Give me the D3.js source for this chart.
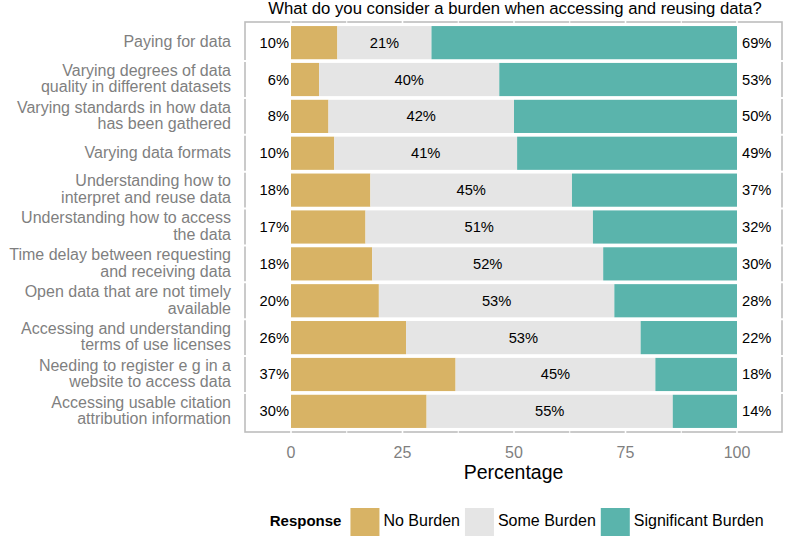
<!DOCTYPE html>
<html>
<head>
<meta charset="utf-8">
<script src="https://cdn.jsdelivr.net/npm/d3@7/dist/d3.min.js"></script>
<style>
  html, body { margin: 0; padding: 0; background: #fff; }
  svg { display: block; font-family: "Liberation Sans", Arial, Helvetica, sans-serif; }
</style>
</head>
<body>
<svg id="chart" width="786" height="538"></svg>
<script>
// ---- data ----
const title = "What do you consider a burden when accessing and reusing data?";
const categories = [
  "Paying for data",
  "Varying degrees of data quality in different datasets",
  "Varying standards in how data has been gathered",
  "Varying data formats",
  "Understanding how to interpret and reuse data",
  "Understanding how to access the data",
  "Time delay between requesting and receiving data",
  "Open data that are not timely available",
  "Accessing and understanding terms of use licenses",
  "Needing to register e g in a website to access data",
  "Accessing usable citation attribution information"
];
const responses = ["No Burden", "Some Burden", "Significant Burden"];
const noBurden          = [10.4, 6.3, 8.4, 9.7, 17.8, 16.7, 18.2, 19.7, 25.8, 36.9, 30.4];
const someBurden        = [21.1, 40.4, 41.6, 41.0, 45.2, 51.0, 51.8, 52.8, 52.6, 44.8, 55.2];
const significantBurden = [68.5, 53.3, 50.0, 49.3, 37.0, 32.3, 30.0, 27.5, 21.6, 18.3, 14.4];
const xTicks = [0, 25, 50, 75, 100];
const xTitle = "Percentage";
const legendTitle = "Response";
const colors = ["#D8B365", "#E5E5E5", "#5AB4AC"];

// ---- layout ----
const svg = d3.select("#chart");
const panel = { left: 245, right: 782, top: 22, bottom: 432 };

const x = d3.scaleLinear().domain([0, 100]).range([291, 737]);
const y = d3.scaleBand().domain(categories)
  .range([panel.top, panel.bottom]).paddingInner(0.1).paddingOuter(0.11);
const color = d3.scaleOrdinal().domain(responses).range(colors);

const rows = categories.map((c, i) => ({
  cat: c, vals: [noBurden[i], someBurden[i], significantBurden[i]]
}));
const stacked = d3.stack().keys([0, 1, 2]).value((d, k) => d.vals[k])(rows);

// panel border
svg.append("rect")
  .attr("x", panel.left).attr("y", panel.top)
  .attr("width", panel.right - panel.left).attr("height", panel.bottom - panel.top)
  .attr("fill", "#fff").attr("stroke", "#BDBDBD").attr("stroke-width", 1.6);

// grid (white)
const minor = d3.range(12.5, 100, 25);
svg.append("g").selectAll("line.minor").data(minor).join("line")
  .attr("x1", d => x(d)).attr("x2", d => x(d))
  .attr("y1", panel.top - 1).attr("y2", panel.bottom + 1)
  .attr("stroke", "#fff").attr("stroke-width", 1);
svg.append("g").selectAll("line.major").data(xTicks).join("line")
  .attr("x1", d => x(d)).attr("x2", d => x(d))
  .attr("y1", panel.top - 1).attr("y2", panel.bottom + 1)
  .attr("stroke", "#fff").attr("stroke-width", 1.6);
const bounds = categories.slice(1).map(c => y(c) - y.step() * y.paddingInner() / 2);
svg.append("g").selectAll("line").data(bounds).join("line")
  .attr("x1", panel.left - 1).attr("x2", panel.right + 1)
  .attr("y1", d => d).attr("y2", d => d)
  .attr("stroke", "#fff").attr("stroke-width", 2);

// bars
svg.append("g").selectAll("g").data(stacked).join("g")
  .attr("fill", (s, i) => colors[i])
  .selectAll("rect").data(s => s).join("rect")
  .attr("x", d => x(d[0]))
  .attr("width", d => x(d[1]) - x(d[0]))
  .attr("y", d => y(d.data.cat))
  .attr("height", y.bandwidth());

// value labels
const lbl = svg.append("g").attr("font-size", 14.7).attr("fill", "#000");
rows.forEach((r, i) => {
  const cy = y(r.cat) + y.bandwidth() / 2 + 5;
  lbl.append("text").attr("x", x(0) - 2).attr("y", cy).attr("text-anchor", "end")
    .text(Math.round(r.vals[0]) + "%");
  lbl.append("text").attr("x", x(r.vals[0] + r.vals[1] / 2)).attr("y", cy).attr("text-anchor", "middle")
    .text(Math.round(r.vals[1]) + "%");
  lbl.append("text").attr("x", x(100) + 5).attr("y", cy).attr("text-anchor", "start")
    .text(Math.round(r.vals[2]) + "%");
});

// y axis labels (wrapped)
function wrap(s, w) {
  const words = s.split(" "); const lines = []; let cur = "";
  words.forEach(wd => {
    const t = cur ? cur + " " + wd : wd;
    if (t.length > w && cur) { lines.push(cur); cur = wd; } else cur = t;
  });
  if (cur) lines.push(cur);
  return lines;
}
const ylab = svg.append("g").attr("font-size", 16).attr("fill", "#7F7F7F").attr("text-anchor", "end");
categories.forEach(c => {
  const lines = wrap(c, 29);
  const cy = y(c) + y.bandwidth() / 2;
  const lh = 16.6;
  const t = ylab.append("text").attr("x", 231);
  lines.forEach((ln, j) => {
    t.append("tspan").attr("x", 231)
      .attr("y", cy + 4.5 + (j - (lines.length - 1) / 2) * lh)
      .text(ln);
  });
});

// x axis tick labels
svg.append("g").attr("font-size", 16).attr("fill", "#7F7F7F").attr("text-anchor", "middle")
  .selectAll("text").data(xTicks).join("text")
  .attr("x", d => x(d)).attr("y", 458).text(d => d);

// x title
svg.append("text").attr("x", (panel.left + panel.right) / 2).attr("y", 479)
  .attr("text-anchor", "middle").attr("font-size", 19.5).attr("fill", "#000").text(xTitle);

// title
svg.append("text").attr("x", (panel.left + panel.right) / 2 + 1.5).attr("y", 14)
  .attr("text-anchor", "middle").attr("font-size", 16.7).attr("fill", "#000").text(title);

// legend
const lg = svg.append("g");
const keyW = 29, keyH = 28, legY = 508;
let cx = 0;
const lt = lg.append("text").attr("x", cx).attr("y", legY + 18).attr("font-size", 15)
  .attr("font-weight", "bold").attr("fill", "#000").text(legendTitle);
cx += lt.node().getComputedTextLength() + 9;
responses.forEach((r, i) => {
  lg.append("rect").attr("x", cx).attr("y", legY).attr("width", keyW).attr("height", keyH)
    .attr("fill", color(r));
  cx += keyW + 4;
  const tt = lg.append("text").attr("x", cx).attr("y", legY + 18).attr("font-size", 16)
    .attr("fill", "#000").text(r);
  cx += tt.node().getComputedTextLength() + 5;
});
const legW = cx - 5;
lg.attr("transform", `translate(${516.7 - legW / 2},0)`);
</script>
</body>
</html>
